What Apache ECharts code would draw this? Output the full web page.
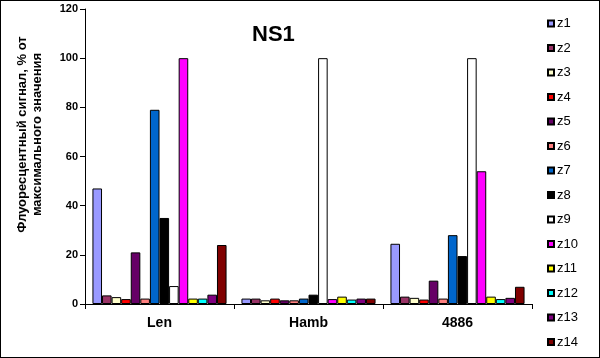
<!DOCTYPE html>
<html><head><meta charset="utf-8">
<script src="https://cdn.jsdelivr.net/npm/echarts@6/dist/echarts.min.js"></script>
<style>html,body{margin:0;padding:0;background:#fff}#c{width:598px;height:356px;border:1px solid #000}</style>
</head><body><div id="c"></div>
<script>
const categories = ['Len', 'Hamb', '4886'];
const seriesNames = ['z1','z2','z3','z4','z5','z6','z7','z8','z9','z10','z11','z12','z13','z14'];
const colors = ['#9999FF','#993366','#FFFFCC','#FF0000','#660066','#FF8080','#0066CC','#000000','#FFFFFF','#FF00FF','#FFFF00','#00FFFF','#800080','#800000'];
const z1 = [47, 2.2, 24.5];
const z2 = [3.5, 2.2, 3];
const z3 = [2.8, 1.5, 2.5];
const z4 = [2, 2.2, 1.8];
const z5 = [21, 1.5, 9.5];
const z6 = [2.2, 1.5, 2.2];
const z7 = [79, 2.2, 28];
const z8 = [35, 3.8, 19.5];
const z9 = [7.3, 100, 100];
const z10 = [100, 2, 54];
const z11 = [2.2, 3, 3];
const z12 = [2.2, 1.8, 2];
const z13 = [3.8, 2.2, 2.5];
const z14 = [24, 2.2, 7];
const values = [z1,z2,z3,z4,z5,z6,z7,z8,z9,z10,z11,z12,z13,z14];

const chart = echarts.init(document.getElementById('c'));
const font = 'Liberation Sans, Arial, sans-serif';
chart.setOption({
  animation: false,
  textStyle: {fontFamily: font},
  title: {text: 'NS1', left: 246, top: 18, textStyle: {fontSize: 22, fontWeight: 'bold', color: '#000', fontFamily: font}},
  legend: {
    orient: 'vertical', left: 546, top: 16, height: 400, padding: 0,
    itemWidth: 6, itemHeight: 6, itemGap: 11.5,
    icon: 'rect',
    textStyle: {fontSize: 13, color: '#000', fontFamily: font, padding: [0,0,0,-2]},
    data: seriesNames
  },
  grid: {left: 84, right: 67, top: 8, bottom: 53, outerBoundsMode: 'none'},
  xAxis: {
    type: 'category', data: categories,
    axisLine: {lineStyle: {color: '#000', width: 1}},
    axisTick: {show: true, inside: false, length: 5, lineStyle: {color: '#000'}},
    axisLabel: {fontSize: 14, fontWeight: 'bold', color: '#000', margin: 12}
  },
  yAxis: {
    type: 'value', min: 0, max: 120, interval: 20,
    name: 'Флуоресцентный сигнал, % от\nмаксимального значения',
    nameLocation: 'middle', nameGap: 40, nameRotate: 90,
    nameTextStyle: {fontSize: 13, fontWeight: 'bold', color: '#000', lineHeight: 15, padding: [0, 0, 0, 44]},
    axisLine: {show: true, lineStyle: {color: '#000'}},
    axisTick: {show: true, inside: false, length: 5, lineStyle: {color: '#000'}},
    splitLine: {show: false},
    axisLabel: {fontSize: 11, fontWeight: 'bold', color: '#000', margin: 7}
  },
  series: seriesNames.map((n, i) => ({
    name: n, type: 'bar', data: values[i],
    barGap: '0%', barCategoryGap: '10%',
    itemStyle: {color: colors[i], borderColor: '#000', borderWidth: 1}
  }))
});
</script></body></html>
